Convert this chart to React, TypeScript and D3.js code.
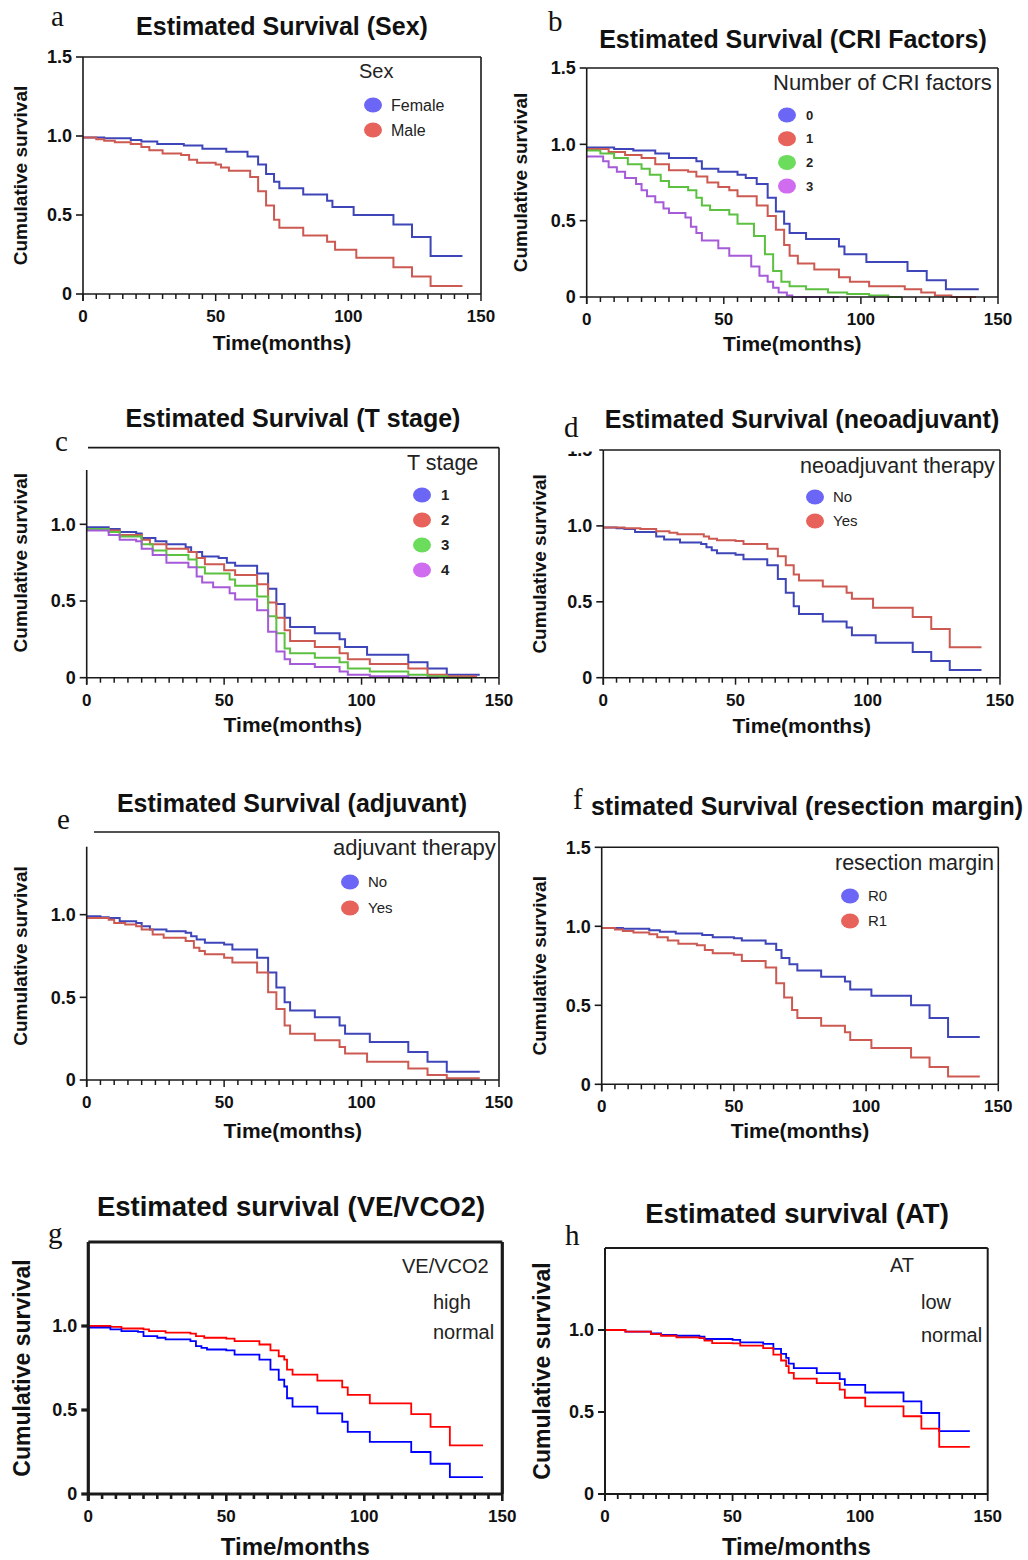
import React from 'react';
import * as d3 from 'd3';

type Pt = [number, number];

// time (months), cumulative survival
const sexFemale: Pt[] = [[0,0.99],[8,0.985],[18,0.975],[22,0.965],[28,0.95],[38,0.94],[45,0.92],[54,0.9],[62,0.87],[66,0.82],[69,0.76],[72,0.71],[74,0.67],[83,0.63],[92,0.59],[94,0.55],[102,0.5],[117,0.44],[124,0.36],[131,0.24],[143,0.24]];
const sexMale: Pt[] = [[0,0.99],[5,0.98],[8,0.97],[12,0.96],[18,0.95],[22,0.93],[25,0.91],[30,0.89],[37,0.88],[40,0.85],[43,0.83],[50,0.82],[52,0.8],[55,0.78],[63,0.74],[66,0.65],[69,0.56],[72,0.47],[74,0.42],[83,0.37],[92,0.33],[95,0.28],[103,0.23],[117,0.17],[124,0.11],[131,0.05],[143,0.05]];

const cri0: Pt[] = [[0,0.98],[10,0.97],[17,0.96],[25,0.94],[30,0.91],[40,0.89],[42,0.84],[48,0.82],[55,0.8],[58,0.78],[62,0.74],[66,0.65],[69,0.56],[72,0.48],[74,0.42],[80,0.38],[92,0.33],[94,0.28],[102,0.23],[117,0.17],[124,0.11],[131,0.05],[143,0.05]];
const cri1: Pt[] = [[0,0.97],[8,0.95],[14,0.93],[20,0.91],[25,0.87],[30,0.83],[37,0.82],[40,0.79],[44,0.75],[48,0.72],[52,0.7],[55,0.66],[62,0.6],[66,0.53],[69,0.44],[72,0.34],[74,0.27],[77,0.22],[83,0.18],[92,0.13],[96,0.1],[103,0.07],[116,0.05],[122,0.03],[127,0.01],[133,0],[142,0]];
const cri2: Pt[] = [[0,0.96],[5,0.94],[10,0.91],[15,0.87],[20,0.84],[23,0.8],[27,0.76],[30,0.72],[37,0.7],[40,0.65],[42,0.6],[45,0.57],[52,0.54],[55,0.48],[61,0.4],[65,0.28],[68,0.17],[71,0.1],[74,0.07],[80,0.05],[88,0.03],[95,0.02],[103,0.01],[110,0],[115,0]];
const cri3: Pt[] = [[0,0.92],[6,0.89],[8,0.85],[11,0.82],[14,0.78],[18,0.74],[20,0.7],[22,0.66],[25,0.62],[28,0.58],[30,0.55],[36,0.52],[38,0.46],[40,0.42],[42,0.37],[48,0.32],[52,0.27],[60,0.2],[63,0.14],[66,0.1],[68,0.06],[70,0.03],[73,0.01],[75,0],[92,0]];

const tStage1: Pt[] = [[0,0.98],[8,0.97],[12,0.95],[18,0.94],[20,0.91],[25,0.89],[29,0.87],[36,0.85],[38,0.82],[42,0.79],[48,0.78],[51,0.75],[54,0.73],[62,0.68],[66,0.58],[69,0.48],[72,0.39],[74,0.33],[83,0.29],[92,0.25],[94,0.2],[102,0.15],[117,0.1],[124,0.06],[131,0.02],[143,0.02]];
const tStage2: Pt[] = [[0,0.97],[8,0.96],[12,0.93],[20,0.9],[23,0.87],[29,0.84],[37,0.82],[40,0.78],[43,0.74],[50,0.7],[54,0.67],[62,0.61],[66,0.49],[69,0.39],[72,0.31],[74,0.24],[83,0.2],[92,0.16],[95,0.12],[103,0.09],[117,0.06],[124,0.02],[131,0.01],[142,0.01]];
const tStage3: Pt[] = [[0,0.97],[8,0.95],[12,0.92],[20,0.87],[24,0.83],[29,0.8],[37,0.77],[40,0.72],[43,0.68],[52,0.64],[54,0.6],[62,0.53],[66,0.4],[69,0.29],[72,0.19],[74,0.16],[83,0.13],[92,0.1],[95,0.06],[103,0.04],[117,0.02],[124,0.01],[131,0],[140,0]];
const tStage4: Pt[] = [[0,0.96],[8,0.93],[12,0.9],[18,0.89],[20,0.84],[24,0.8],[29,0.75],[37,0.72],[40,0.66],[42,0.62],[46,0.59],[52,0.55],[54,0.51],[62,0.44],[66,0.3],[69,0.17],[72,0.12],[74,0.09],[83,0.07],[92,0.04],[95,0.02],[103,0.01],[117,0],[128,0]];

const neoNo: Pt[] = [[0,0.99],[5,0.985],[8,0.98],[12,0.96],[20,0.93],[23,0.91],[29,0.89],[37,0.88],[39,0.86],[41,0.84],[43,0.82],[50,0.81],[53,0.78],[62,0.74],[66,0.65],[69,0.56],[72,0.47],[74,0.42],[83,0.37],[92,0.33],[94,0.28],[103,0.23],[117,0.17],[124,0.11],[131,0.05],[143,0.05]];
const neoYes: Pt[] = [[0,0.99],[8,0.985],[14,0.98],[20,0.965],[25,0.955],[28,0.945],[38,0.93],[40,0.915],[43,0.905],[50,0.9],[53,0.88],[62,0.85],[66,0.8],[69,0.74],[72,0.68],[74,0.64],[83,0.6],[92,0.56],[94,0.52],[102,0.46],[117,0.4],[124,0.32],[131,0.2],[143,0.2]];

const adjNo: Pt[] = [[0,0.99],[5,0.985],[8,0.98],[12,0.96],[18,0.95],[20,0.93],[23,0.91],[29,0.9],[36,0.89],[38,0.87],[40,0.85],[43,0.83],[50,0.82],[53,0.79],[62,0.74],[66,0.65],[69,0.56],[72,0.47],[74,0.42],[83,0.38],[92,0.33],[94,0.28],[103,0.23],[117,0.17],[124,0.11],[131,0.05],[143,0.05]];
const adjYes: Pt[] = [[0,0.98],[8,0.97],[10,0.95],[14,0.94],[18,0.93],[20,0.91],[24,0.88],[28,0.86],[36,0.84],[39,0.8],[41,0.78],[43,0.76],[50,0.74],[53,0.71],[62,0.65],[66,0.53],[69,0.43],[72,0.33],[74,0.28],[83,0.24],[92,0.2],[94,0.16],[102,0.11],[117,0.07],[124,0.03],[131,0.01],[143,0.01]];

const marginR0: Pt[] = [[0,0.99],[8,0.985],[18,0.975],[22,0.965],[28,0.955],[38,0.945],[42,0.93],[50,0.925],[53,0.91],[62,0.89],[66,0.85],[68,0.8],[71,0.76],[74,0.72],[83,0.68],[92,0.65],[94,0.6],[102,0.56],[117,0.5],[124,0.42],[131,0.3],[143,0.3]];
const marginR1: Pt[] = [[0,0.99],[5,0.98],[8,0.97],[12,0.96],[18,0.95],[21,0.93],[25,0.91],[29,0.89],[36,0.88],[39,0.85],[42,0.83],[50,0.82],[53,0.78],[62,0.74],[66,0.64],[69,0.55],[72,0.47],[74,0.42],[83,0.37],[92,0.33],[94,0.28],[102,0.23],[117,0.17],[124,0.11],[131,0.05],[143,0.05]];

const veNormal: Pt[] = [[0,1],[8,0.995],[12,0.985],[20,0.98],[22,0.97],[28,0.96],[37,0.955],[39,0.94],[42,0.93],[50,0.925],[53,0.91],[62,0.89],[66,0.855],[69,0.82],[71,0.8],[72,0.74],[74,0.71],[83,0.675],[92,0.635],[94,0.59],[102,0.54],[117,0.475],[124,0.4],[131,0.29],[143,0.29]];
const veHigh: Pt[] = [[0,0.99],[8,0.98],[12,0.97],[18,0.965],[20,0.94],[25,0.93],[28,0.92],[37,0.91],[39,0.88],[41,0.87],[43,0.86],[50,0.855],[53,0.83],[62,0.8],[66,0.74],[69,0.68],[71,0.64],[72,0.57],[74,0.52],[83,0.48],[92,0.43],[94,0.37],[102,0.31],[117,0.25],[124,0.18],[131,0.1],[143,0.1]];

const atNormal: Pt[] = [[0,1],[8,0.99],[18,0.98],[22,0.97],[28,0.965],[37,0.96],[39,0.945],[50,0.94],[53,0.925],[62,0.915],[66,0.885],[69,0.855],[71,0.83],[72,0.795],[74,0.767],[83,0.737],[92,0.7],[94,0.666],[102,0.619],[117,0.565],[124,0.494],[131,0.383],[143,0.383]];
const atLow: Pt[] = [[0,1],[8,0.99],[18,0.975],[22,0.965],[28,0.955],[37,0.95],[39,0.935],[42,0.92],[50,0.918],[53,0.905],[62,0.889],[66,0.85],[69,0.814],[71,0.78],[72,0.739],[74,0.703],[83,0.676],[92,0.636],[94,0.587],[102,0.534],[117,0.474],[124,0.399],[131,0.287],[143,0.287]];

const xTickValues = [0, 50, 100, 150];
const yTickValues = [0, 0.5, 1.0, 1.5];

const SANS = "'Liberation Sans', Arial, Helvetica, sans-serif";
const SERIF = "'Liberation Serif', 'DejaVu Serif', serif";

const lineBlue = '#3d45b8', lineRed = '#cc5a52', lineGreen = '#5cc040', linePurple = '#a55ad8';
const dotBlue = '#6b66f5', dotRed = '#e8625c', dotGreen = '#6cdc5c', dotPurple = '#cf6cf0';

type Series = { data: Pt[]; color: string };
type LegendItem = { label: string; color?: string };

interface PanelProps {
  id: string;
  left: number; right: number; top: number; bottom: number;
  series: Series[];
  curveWidth?: number;
  yLabelTicks: number[];
  frameWidth?: number;
  tickWidth?: number;
  cutTopX?: number;      // top border starts here (panels c, e)
  cutLeftY?: number;     // left axis starts here
  maskTopLabel?: boolean;
  title: string; titleX: number; titleY: number; titleSize: number;
  titleAnchor?: 'middle' | 'end';
  letter: string; letterX: number; letterY: number;
  xTitle: string; axisTitleSize: number; yTitleSize: number; xTitleGap: number; yTitleGap: number;
  tickSize?: number;
  legendTitle: string; legendTX: number; legendTY: number; legendTSize: number;
  legendItems: LegendItem[]; legendMX: number; legendMY: number; legendStep: number;
  legendLX: number; legendLSize: number; legendBold?: boolean;
}

function Panel(p: PanelProps) {
  const x = d3.scaleLinear().domain([0, 150]).range([p.left, p.right]);
  const y = d3.scaleLinear().domain([0, 1.5]).range([p.bottom, p.top]);
  const line = d3.line<Pt>().x(d => x(d[0])).y(d => y(d[1])).curve(d3.curveStepAfter);
  const fw = p.frameWidth ?? 1.6;
  const tw = p.tickWidth ?? 1.5;
  const ts = p.tickSize ?? 17;
  const minor = d3.range(0, 151, 5);
  const fmt = (v: number) => (v === 0 ? '0' : v.toFixed(1));
  const leftTop = p.cutLeftY ?? p.top;
  const topStart = p.cutTopX ?? p.left;
  const cx = (p.left + p.right) / 2;
  const cy = (p.top + p.bottom) / 2;

  return (
    <g>
      <text x={p.titleX} y={p.titleY} textAnchor={p.titleAnchor ?? 'middle'} fontFamily={SANS} fontWeight="bold"
        fontSize={p.titleSize} fill="#111">
        {p.title}
      </text>

      {/* curves */}
      {p.series.map((s, i) => (
        <path key={i} d={line(s.data) ?? ''} fill="none" stroke={s.color} strokeWidth={p.curveWidth ?? 2} />
      ))}

      {/* frame */}
      <line x1={topStart} x2={p.right} y1={p.top} y2={p.top} stroke="#1a1a1a" strokeWidth={fw} />
      <line x1={p.right} x2={p.right} y1={p.top} y2={p.bottom} stroke="#1a1a1a" strokeWidth={fw} />
      <line x1={p.left} x2={p.left} y1={leftTop} y2={p.bottom + 7} stroke="#1a1a1a" strokeWidth={fw} />
      <line x1={p.left} x2={p.right} y1={p.bottom} y2={p.bottom} stroke="#1a1a1a" strokeWidth={fw} />

      {/* x ticks */}
      {minor.map(t => (
        <line key={t} x1={x(t)} x2={x(t)} y1={p.bottom} y2={p.bottom + (t % 50 === 0 ? 7 : 5)} stroke="#1a1a1a" strokeWidth={tw} />
      ))}
      {xTickValues.map(t => (
        <text key={t} x={x(t)} y={p.bottom + 28} textAnchor="middle" fontFamily={SANS} fontWeight="bold" fontSize={ts} fill="#111">{t}</text>
      ))}

      {/* y ticks */}
      {p.yLabelTicks.map(t => (
        <g key={t}>
          <line x1={p.left - 7} x2={p.left} y1={y(t)} y2={y(t)} stroke="#1a1a1a" strokeWidth={fw} />
          <text x={p.left - 11} y={y(t)} dy="0.36em" textAnchor="end" fontFamily={SANS} fontWeight="bold" fontSize={ts + 1} fill="#111">{fmt(t)}</text>
        </g>
      ))}
      {p.maskTopLabel && <rect x={p.left - 42} y={p.top - 10} width={38} height={11.5} fill="#fff" />}

      <text x={p.letterX} y={p.letterY} fontFamily={SERIF} fontSize={29} fill="#111">{p.letter}</text>

      {/* axis titles */}
      <text x={cx} y={p.bottom + p.xTitleGap} textAnchor="middle" fontFamily={SANS} fontWeight="bold" fontSize={p.axisTitleSize} fill="#111">{p.xTitle}</text>
      <text transform={`translate(${p.left - p.yTitleGap},${cy}) rotate(-90)`} dy="0.36em" textAnchor="middle"
        fontFamily={SANS} fontWeight="bold" fontSize={p.yTitleSize} fill="#111">Cumulative survival</text>

      {/* legend */}
      <text x={p.legendTX} y={p.legendTY} fontFamily={SANS} fontSize={p.legendTSize} fill="#222">{p.legendTitle}</text>
      {p.legendItems.map((it, i) => (
        <g key={it.label}>
          {it.color && <ellipse cx={p.legendMX} cy={p.legendMY + i * p.legendStep} rx={9} ry={7.5} fill={it.color} />}
          <text x={p.legendLX} y={p.legendMY + i * p.legendStep} dy="0.36em" fontFamily={SANS}
            fontWeight={p.legendBold ? 'bold' : 'normal'} fontSize={p.legendLSize} fill="#222">{it.label}</text>
        </g>
      ))}
    </g>
  );
}

export default function App() {
  const common = { axisTitleSize: 21, yTitleSize: 19, tickSize: 17, legendTSize: 21.5 };
  return (
    <svg width={1028} height={1560} viewBox="0 0 1028 1560" style={{ position: 'absolute', left: 0, top: 0, background: '#fff' }}>
      <rect width={1028} height={1560} fill="#fff" />
      <Panel id="a" {...common} left={83} right={481} top={57} bottom={294}
        series={[{ data: sexFemale, color: lineBlue }, { data: sexMale, color: lineRed }]}
        yLabelTicks={yTickValues}
        title="Estimated Survival (Sex)" titleX={282} titleY={35} titleSize={25}
        letter="a" letterX={51} letterY={26}
        xTitle="Time(months)" xTitleGap={56} yTitleGap={63}
        legendTitle="Sex" legendTSize={20} legendTX={359} legendTY={78}
        legendItems={[{ label: 'Female', color: dotBlue }, { label: 'Male', color: dotRed }]}
        legendMX={373} legendMY={105} legendStep={25} legendLX={391} legendLSize={16} />
      <Panel id="b" {...common} left={586.7} right={998} top={68} bottom={297}
        series={[{ data: cri0, color: lineBlue }, { data: cri1, color: lineRed }, { data: cri2, color: lineGreen }, { data: cri3, color: linePurple }]}
        yLabelTicks={yTickValues}
        title="Estimated Survival (CRI Factors)" titleX={793} titleY={48} titleSize={25}
        letter="b" letterX={548} letterY={31}
        xTitle="Time(months)" xTitleGap={54} yTitleGap={67}
        legendTitle="Number of CRI factors" legendTSize={22} legendTX={773} legendTY={90}
        legendItems={[{ label: '0', color: dotBlue }, { label: '1', color: dotRed }, { label: '2', color: dotGreen }, { label: '3', color: dotPurple }]}
        legendMX={787} legendMY={115} legendStep={23.7} legendLX={806} legendLSize={13} legendBold />
      <Panel id="c" {...common} left={86.7} right={499} top={447.6} bottom={677.7}
        series={[{ data: tStage1, color: lineBlue }, { data: tStage2, color: lineRed }, { data: tStage3, color: lineGreen }, { data: tStage4, color: linePurple }]}
        yLabelTicks={[0, 0.5, 1.0]} cutTopX={88} cutLeftY={470}
        title="Estimated Survival (T stage)" titleX={293} titleY={427} titleSize={25}
        letter="c" letterX={55} letterY={451}
        xTitle="Time(months)" xTitleGap={54} yTitleGap={67}
        legendTitle="T stage" legendTX={407} legendTY={470}
        legendItems={[{ label: '1', color: dotBlue }, { label: '2', color: dotRed }, { label: '3', color: dotGreen }, { label: '4', color: dotPurple }]}
        legendMX={422} legendMY={495} legendStep={25} legendLX={441} legendLSize={15} legendBold />
      <Panel id="d" {...common} left={603.3} right={1000} top={450} bottom={677.7}
        series={[{ data: neoNo, color: lineBlue }, { data: neoYes, color: lineRed }]}
        yLabelTicks={yTickValues} maskTopLabel
        title="Estimated Survival (neoadjuvant)" titleX={802} titleY={428} titleSize={25}
        letter="d" letterX={564} letterY={437}
        xTitle="Time(months)" xTitleGap={55} yTitleGap={64}
        legendTitle="neoadjuvant therapy" legendTX={800} legendTY={473}
        legendItems={[{ label: 'No', color: dotBlue }, { label: 'Yes', color: dotRed }]}
        legendMX={815} legendMY={497} legendStep={24} legendLX={833} legendLSize={15} />
      <Panel id="e" {...common} left={86.7} right={499} top={832} bottom={1080}
        series={[{ data: adjNo, color: lineBlue }, { data: adjYes, color: lineRed }]}
        yLabelTicks={[0, 0.5, 1.0]} cutTopX={94} cutLeftY={846.7}
        title="Estimated Survival (adjuvant)" titleX={292} titleY={812} titleSize={25}
        letter="e" letterX={57} letterY={829}
        xTitle="Time(months)" xTitleGap={58} yTitleGap={67}
        legendTitle="adjuvant therapy" legendTSize={22} legendTX={333} legendTY={855}
        legendItems={[{ label: 'No', color: dotBlue }, { label: 'Yes', color: dotRed }]}
        legendMX={350} legendMY={882} legendStep={26} legendLX={368} legendLSize={15} />
      <Panel id="f" {...common} left={601.7} right={998.3} top={847.3} bottom={1084.3}
        series={[{ data: marginR0, color: lineBlue }, { data: marginR1, color: lineRed }]}
        yLabelTicks={yTickValues}
        title="stimated Survival (resection margin)" titleX={1023} titleY={815} titleSize={25} titleAnchor="end"
        letter="f" letterX={573} letterY={809}
        xTitle="Time(months)" xTitleGap={54} yTitleGap={63}
        legendTitle="resection margin" legendTX={835} legendTY={870}
        legendItems={[{ label: 'R0', color: dotBlue }, { label: 'R1', color: dotRed }]}
        legendMX={850} legendMY={896} legendStep={25} legendLX={868} legendLSize={15} />
      <Panel id="g" axisTitleSize={24} yTitleSize={23} tickSize={17} legendTSize={20} left={88.3} right={502.3} top={1242} bottom={1494}
        series={[{ data: veNormal, color: '#ff0000' }, { data: veHigh, color: '#0000ff' }]} curveWidth={1.8}
        yLabelTicks={[0, 0.5, 1.0]} frameWidth={3.2} tickWidth={2.6}
        title="Estimated survival (VE/VCO2)" titleX={291} titleY={1216} titleSize={27.5}
        letter="g" letterX={48} letterY={1243}
        xTitle="Time/months" xTitleGap={61} yTitleGap={67}
        legendTitle="VE/VCO2" legendTX={402} legendTY={1273}
        legendItems={[{ label: 'high' }, { label: 'normal' }]}
        legendMX={420} legendMY={1302} legendStep={30} legendLX={433} legendLSize={20} />
      <Panel id="h" axisTitleSize={24} yTitleSize={23} tickSize={17} legendTSize={20} left={605} right={987.7} top={1248} bottom={1494}
        series={[{ data: atNormal, color: '#0000ff' }, { data: atLow, color: '#ff0000' }]} curveWidth={1.8}
        yLabelTicks={[0, 0.5, 1.0]} frameWidth={2} tickWidth={1.8}
        title="Estimated survival (AT)" titleX={797} titleY={1223} titleSize={27.5}
        letter="h" letterX={565} letterY={1245}
        xTitle="Time/months" xTitleGap={61} yTitleGap={63}
        legendTitle="AT" legendTX={890} legendTY={1272}
        legendItems={[{ label: 'low' }, { label: 'normal' }]}
        legendMX={910} legendMY={1302} legendStep={33} legendLX={921} legendLSize={20} />
    </svg>
  );
}
